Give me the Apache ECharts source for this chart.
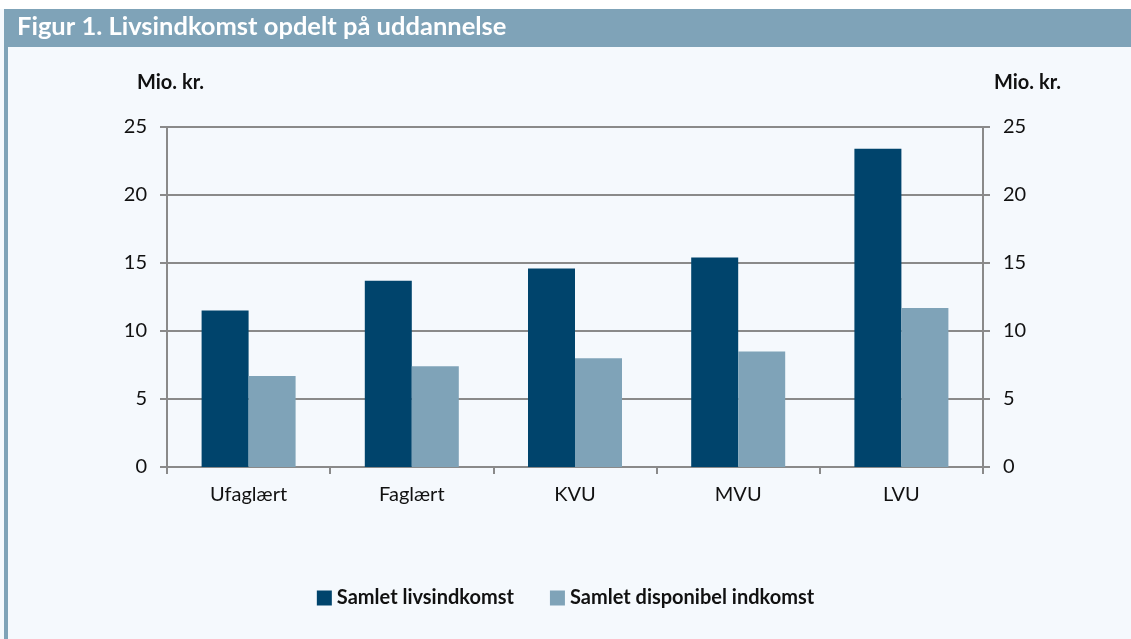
<!DOCTYPE html>
<html><head><meta charset="utf-8">
<script src="https://cdn.jsdelivr.net/npm/echarts@6/dist/echarts.min.js"></script>
<style>html,body{margin:0;padding:0;background:#fff}#c{width:1131px;height:639px}</style>
</head><body><div id="c"></div>
<script>
const categories = ['Ufaglært', 'Faglært', 'KVU', 'MVU', 'LVU'];
const samletLivsindkomst = [11.5, 13.7, 14.6, 15.4, 23.4];
const samletDisponibel = [6.7, 7.4, 8.0, 8.5, 11.7];
const yTicks = [0, 5, 10, 15, 20, 25];

const FONT = 'Lato';
const chart = echarts.init(document.getElementById('c'));
const axisColor = '#8a8a8a';
const yAxisBase = {
  type: 'value', min: yTicks[0], max: yTicks[yTicks.length - 1], interval: yTicks[1] - yTicks[0],
  axisLine: { show: true, lineStyle: { color: axisColor, width: 2 } },
  axisTick: { show: true, length: 7, lineStyle: { color: axisColor, width: 2 } },
  axisLabel: { color: '#111', fontFamily: FONT, fontSize: 20, margin: 20 }
};
chart.setOption({
  backgroundColor: '#f5f9fd',
  animation: false,
  graphic: [
    { type: 'rect', shape: { x: 0, y: 0, width: 1131, height: 9 }, style: { fill: '#ffffff' }, silent: true },
    { type: 'rect', shape: { x: 4, y: 9, width: 1127, height: 38 }, style: { fill: '#7fa3b8' }, silent: true },
    { type: 'rect', shape: { x: 4, y: 47, width: 4, height: 592 }, style: { fill: '#7fa3b8' }, silent: true },
    { type: 'text', left: 17, top: 14, style: { text: 'Figur 1. Livsindkomst opdelt på uddannelse', fill: '#ffffff', font: 'bold 25.5px ' + FONT } },
    { type: 'text', left: 137, top: 73, style: { text: 'Mio. kr.', fill: '#111', font: 'bold 20px ' + FONT } },
    { type: 'text', left: 994, top: 73, style: { text: 'Mio. kr.', fill: '#111', font: 'bold 20px ' + FONT } }
  ],
  grid: { left: 167, right: 148, top: 127, bottom: 172, containLabel: false },
  legend: {
    bottom: 26, left: 'center', itemWidth: 15, itemHeight: 15, itemGap: 36,
    icon: 'rect',
    textStyle: { color: '#111', fontFamily: FONT, fontSize: 20, fontWeight: 'bold' },
    data: ['Samlet livsindkomst', 'Samlet disponibel indkomst']
  },
  xAxis: {
    type: 'category', data: categories,
    axisLine: { show: true, lineStyle: { color: axisColor, width: 2 } },
    axisTick: { show: true, length: 7, alignWithLabel: false, lineStyle: { color: axisColor, width: 2 } },
    axisLabel: { color: '#111', fontFamily: FONT, fontSize: 20, margin: 18 }
  },
  yAxis: [
    Object.assign({}, yAxisBase, { position: 'left', splitLine: { show: true, lineStyle: { color: axisColor, width: 2 } } }),
    Object.assign({}, yAxisBase, { position: 'right', splitLine: { show: false } })
  ],
  series: [
    { name: 'Samlet livsindkomst', type: 'bar', data: samletLivsindkomst, yAxisIndex: 0, barWidth: 47, barGap: '0%', itemStyle: { color: '#00446c' } },
    { name: 'Samlet disponibel indkomst', type: 'bar', data: samletDisponibel, yAxisIndex: 0, barWidth: 47, barGap: '0%', itemStyle: { color: '#7fa3b8' } }
  ]
});
</script></body></html>
